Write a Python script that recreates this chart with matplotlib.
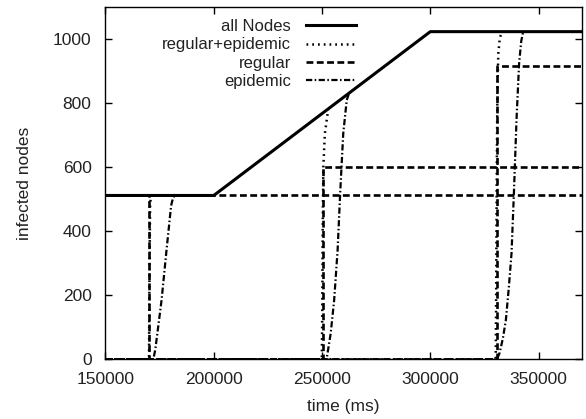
import matplotlib
matplotlib.use("Agg")
import matplotlib.pyplot as plt

plt.rcParams["font.family"] = ["Liberation Sans", "DejaVu Sans"]

# ====== 数据 ======
# all Nodes
all_t = [150000, 200000, 300000, 370000]
all_n = [512, 512, 1024, 1024]

# regular：三次运行
reg1_t = [150000, 170200, 170200, 370000]
reg1_n = [0, 0, 512, 512]
reg2_t = [150000, 250500, 250500, 370000]
reg2_n = [0, 0, 600, 600]
reg3_t = [150000, 330600, 330600, 370000]
reg3_n = [0, 0, 918, 918]

# regular+epidemic：三次运行
re1_t = [150000, 170100, 170300, 170600, 171000]
re1_n = [0, 0, 250, 480, 512]
re2_t = [150000, 249900, 250100, 250300, 250600, 251300, 252900]
re2_n = [0, 0, 150, 400, 600, 705, 784]
re3_t = [150000, 330200, 330400, 330700, 331000, 331400, 332100, 333200]
re3_n = [0, 0, 200, 600, 850, 955, 1005, 1024]

# epidemic：三次运行
ep1_t = [150000, 172100, 173000, 174500, 175900, 178200, 180300, 181200, 182000]
ep1_n = [0, 0, 30, 110, 185, 342, 480, 505, 512]
ep2_t = [150000, 252100, 254000, 255600, 257200, 258300, 259000, 259800, 261400, 262400]
ep2_n = [0, 0, 81, 185, 342, 508, 602, 706, 810, 830]
ep3_t = [150000, 330800, 332000, 333500, 334900, 336200, 337500, 338600, 339800, 341000, 342000, 342900]
ep3_n = [0, 0, 20, 65, 123, 220, 331, 519, 748, 925, 995, 1024]

fig = plt.figure(figsize=(5.86, 4.19), dpi=100)
ax = fig.add_axes([0.180, 0.1425, 0.813, 0.840])

ls_dot = (0, (0.7, 1.6))
ls_dash = (0, (2.6, 1.3))
ls_dd = (0, (2.8, 1.1, 0.7, 1.1))

ax.plot(all_t, all_n, color="black", lw=2.2, ls="-", label="all Nodes", zorder=5)
for i, (t, n) in enumerate([(re1_t, re1_n), (re2_t, re2_n), (re3_t, re3_n)]):
    ax.plot(t, n, color="black", lw=1.8, ls=ls_dot, label="regular+epidemic" if i == 0 else None)
for i, (t, n) in enumerate([(reg1_t, reg1_n), (reg2_t, reg2_n), (reg3_t, reg3_n)]):
    ax.plot(t, n, color="black", lw=1.9, ls=ls_dash, label="regular" if i == 0 else None)
for i, (t, n) in enumerate([(ep1_t, ep1_n), (ep2_t, ep2_n), (ep3_t, ep3_n)]):
    ax.plot(t, n, color="black", lw=1.6, ls=ls_dd, label="epidemic" if i == 0 else None)

ax.set_xlim(150000, 370000)
ax.set_ylim(0, 1100)
ax.set_xticks(range(150000, 350001, 50000))
ax.set_yticks(range(0, 1001, 200))
ax.tick_params(direction="in", top=True, right=True, length=5, width=1,
               labelsize=12.5, colors="black", labelcolor="#222222")
ax.tick_params(axis="x", pad=9.5)
ax.tick_params(axis="y", pad=10)
for s in ax.spines.values():
    s.set_linewidth(1.0)

ax.set_xlabel("time (ms)", fontsize=12.5, labelpad=8, color="#222222")
ax.set_ylabel("infected nodes", fontsize=12.5, labelpad=15, color="#222222")

ax.legend(loc="upper right", bbox_to_anchor=(0.551, 1.0), frameon=False, markerfirst=False,
          fontsize=12, handlelength=3.0, labelspacing=0.19, handletextpad=0.9,
          borderaxespad=0.32, labelcolor="#222222")

fig.savefig("out.png", dpi=100)
